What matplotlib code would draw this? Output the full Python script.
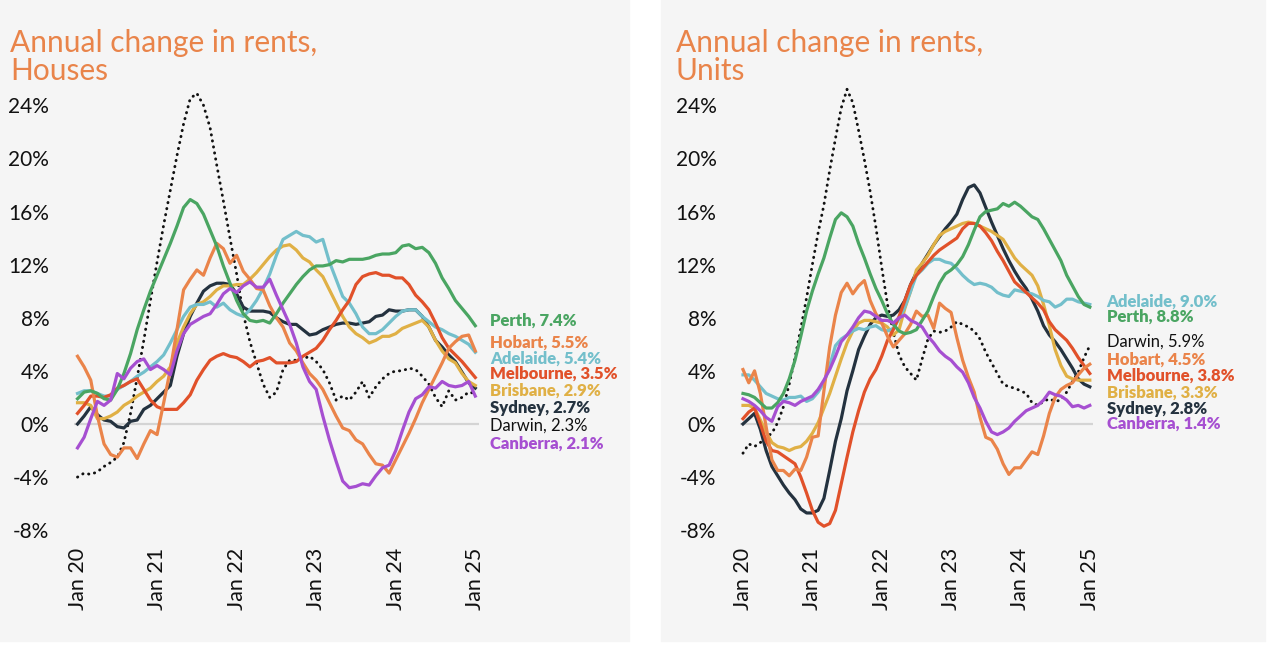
import matplotlib
matplotlib.use("Agg")
import matplotlib.pyplot as plt
from matplotlib.patches import Rectangle

# monthly annual change (%), Jan 2020 .. Jan 2025
TICK_LABELS = ["Jan 20", "Jan 21", "Jan 22", "Jan 23", "Jan 24", "Jan 25"]
Y_TICKS = [-8, -4, 0, 4, 8, 12, 16, 20, 24]

houses_perth = [1.9, 2.4, 2.5, 2.3, 1.9, 1.8, 2.6, 3.8, 5.3, 7.1, 8.6, 10.0, 11.2, 12.4, 13.6, 14.9,
                16.3, 16.9, 16.6, 15.8, 14.6, 13.4, 11.9, 10.6, 9.3, 8.3, 7.8, 7.7, 7.8, 7.6, 8.3, 9.1,
                9.8, 10.5, 11.1, 11.6, 11.9, 11.9, 12.0, 12.3, 12.2, 12.4, 12.4, 12.4, 12.5, 12.7, 12.8,
                12.8, 12.9, 13.4, 13.5, 13.2, 13.3, 12.9, 12.1, 11.0, 10.2, 9.3, 8.7, 8.1, 7.4]
houses_hobart = [5.1, 4.3, 3.3, 0.6, -1.5, -2.3, -2.5, -1.8, -1.8, -2.6, -1.5, -0.5, -0.8, 1.6, 4.1, 7.1,
                 10.1, 10.9, 11.6, 11.2, 12.5, 13.6, 13.2, 12.1, 12.7, 11.5, 10.9, 10.2, 10.1, 8.9, 8.0,
                 7.3, 6.1, 5.5, 4.6, 3.8, 3.3, 2.6, 1.6, 0.6, -0.3, -0.5, -1.2, -1.5, -2.3, -3.0, -3.1,
                 -3.7, -2.7, -1.7, -0.7, 0.4, 1.6, 2.6, 3.6, 4.6, 5.7, 6.2, 6.6, 6.7, 5.5]
houses_adelaide = [2.3, 2.5, 2.5, 2.3, 2.1, 2.1, 2.6, 2.9, 3.2, 3.6, 3.9, 4.3, 4.7, 5.2, 6.1, 7.1, 8.1,
                   8.8, 9.0, 9.0, 9.2, 8.8, 9.1, 8.6, 8.3, 8.1, 8.6, 9.3, 10.2, 11.3, 12.7, 13.9, 14.2,
                   14.5, 14.2, 14.1, 13.7, 13.9, 12.2, 10.9, 9.6, 9.1, 8.3, 7.3, 6.8, 6.8, 7.1, 7.6, 8.1,
                   8.5, 8.6, 8.6, 8.1, 7.7, 7.3, 7.1, 6.8, 6.6, 6.3, 6.0, 5.4]
houses_melbourne = [0.8, 1.4, 2.1, 2.1, 2.0, 2.2, 2.7, 2.9, 3.2, 3.4, 2.6, 1.8, 1.3, 1.1, 1.1, 1.1, 1.6,
                    2.2, 3.3, 4.1, 4.8, 5.1, 5.3, 5.1, 5.0, 4.7, 4.3, 4.7, 4.8, 5.0, 4.6, 4.6, 4.6, 4.7,
                    5.1, 5.4, 5.7, 6.3, 7.1, 7.8, 8.6, 9.3, 10.5, 11.1, 11.3, 11.4, 11.2, 11.2, 11.0,
                    11.0, 10.5, 9.7, 9.2, 8.6, 7.6, 6.5, 5.7, 5.2, 4.7, 4.1, 3.5]
houses_brisbane = [1.6, 1.6, 1.4, 0.4, 0.4, 0.6, 0.9, 1.4, 1.7, 2.1, 2.4, 2.7, 3.2, 3.6, 4.3, 6.1, 7.3,
                   8.3, 9.0, 9.2, 9.6, 10.1, 10.4, 10.4, 10.5, 10.5, 10.9, 11.4, 12.0, 12.6, 13.1, 13.4,
                   13.5, 13.1, 12.5, 12.2, 11.6, 11.1, 10.1, 9.1, 8.1, 7.3, 6.8, 6.5, 6.1, 6.3, 6.6, 6.6,
                   6.8, 7.2, 7.4, 7.6, 7.8, 7.3, 6.3, 5.5, 4.9, 4.6, 3.8, 3.2, 2.9]
houses_sydney = [0.0, 0.6, 1.3, 0.7, 0.3, 0.2, -0.2, -0.3, 0.2, 0.3, 1.1, 1.4, 1.9, 2.4, 2.9, 5.1, 6.8,
                 8.1, 9.1, 10.0, 10.4, 10.6, 10.6, 10.5, 9.8, 8.8, 8.5, 8.5, 8.5, 8.4, 8.0, 7.7, 7.5,
                 7.5, 7.1, 6.7, 6.8, 7.1, 7.3, 7.5, 7.6, 7.6, 7.5, 7.6, 7.7, 8.1, 8.2, 8.6, 8.5, 8.5,
                 8.6, 8.6, 8.1, 7.3, 6.3, 5.8, 5.2, 4.7, 3.9, 3.1, 2.7]
houses_darwin = [-4.0, -3.7, -3.8, -3.6, -3.2, -2.9, -2.5, -1.4, 0.8, 3.5, 6.3, 9.3, 12.2, 15.0, 17.6,
                 20.2, 22.6, 24.5, 24.9, 24.0, 22.3, 19.5, 16.8, 14.0, 11.3, 8.3, 6.2, 4.6, 3.0, 2.0,
                 2.4, 4.1, 4.8, 4.8, 4.9, 5.1, 4.7, 4.1, 3.1, 1.8, 2.1, 1.8, 2.4, 3.2, 2.0, 2.8, 3.4,
                 3.8, 4.0, 4.0, 4.2, 4.1, 3.6, 3.0, 2.0, 1.3, 2.5, 1.8, 2.0, 2.4, 2.3]
houses_canberra = [-1.8, -1.0, 0.4, 1.7, 1.4, 1.8, 3.8, 3.4, 4.2, 4.7, 4.9, 4.1, 4.4, 4.1, 3.7, 5.5,
                   6.8, 7.5, 7.8, 8.1, 8.3, 9.0, 9.8, 10.2, 9.9, 10.4, 10.7, 10.3, 10.3, 10.9, 9.7, 8.6,
                   7.5, 6.1, 4.3, 3.2, 2.6, 0.6, -1.2, -2.8, -4.3, -4.8, -4.7, -4.5, -4.6, -3.9, -3.3,
                   -3.1, -2.0, -0.5, 0.9, 1.9, 2.2, 2.8, 2.7, 3.2, 2.9, 2.8, 2.9, 3.2, 2.1]

units_perth = [2.3, 2.2, 2.0, 1.6, 1.2, 1.2, 1.6, 2.3, 3.4, 4.8, 6.6, 8.5, 10.0, 11.3, 12.5, 14.0, 15.4,
               15.9, 15.6, 14.9, 13.6, 12.5, 11.3, 10.2, 9.3, 8.3, 7.5, 7.0, 6.8, 6.9, 7.1, 7.8, 8.5,
               9.6, 10.6, 11.3, 11.6, 12.0, 12.6, 13.5, 14.6, 15.6, 16.0, 16.1, 16.2, 16.6, 16.4, 16.7,
               16.4, 16.0, 15.6, 15.4, 14.7, 13.9, 13.1, 12.3, 11.2, 10.4, 9.6, 9.0, 8.8]
units_adelaide = [3.7, 3.7, 3.3, 2.8, 2.3, 2.1, 1.9, 1.8, 2.0, 2.0, 2.1, 1.7, 1.9, 2.4, 3.1, 4.4, 5.9,
                  6.4, 6.7, 7.0, 7.2, 7.1, 7.3, 7.4, 7.1, 7.0, 7.2, 7.9, 8.8, 10.0, 11.2, 11.6, 12.1,
                  12.4, 12.4, 12.2, 12.1, 11.7, 11.2, 10.8, 10.5, 10.6, 10.5, 10.3, 9.9, 9.7, 9.6, 10.1,
                  10.0, 9.9, 9.8, 9.6, 9.3, 9.2, 8.8, 9.0, 9.4, 9.4, 9.2, 9.1, 9.0]
units_hobart = [4.1, 3.1, 4.0, 2.3, -0.2, -2.7, -3.5, -3.5, -3.9, -3.4, -3.5, -2.5, -1.0, -0.9, 2.5, 5.8,
                8.2, 9.9, 10.6, 9.8, 10.4, 10.8, 9.3, 8.3, 7.6, 6.6, 5.8, 6.3, 6.8, 7.5, 8.5, 8.1, 8.2,
                7.2, 9.1, 8.7, 8.4, 6.5, 4.8, 3.5, 2.4, 0.5, -1.0, -1.2, -1.9, -3.0, -3.8, -3.3, -3.3,
                -2.7, -2.1, -2.3, -0.9, 0.8, 2.0, 2.6, 2.9, 3.1, 3.7, 4.2, 4.5]
units_melbourne = [0.4, 0.9, 1.2, 0.0, -1.3, -2.0, -2.1, -2.4, -2.7, -3.0, -4.0, -5.2, -6.5, -7.4, -7.7,
                   -7.5, -6.5, -4.5, -2.5, -0.6, 1.0, 2.4, 3.4, 4.1, 5.1, 6.3, 7.1, 8.1, 9.3, 10.5, 11.2,
                   11.7, 12.2, 12.7, 13.1, 13.4, 13.7, 14.0, 14.7, 15.1, 15.1, 14.9, 14.4, 13.8, 13.0,
                   12.3, 11.5, 10.7, 10.3, 9.9, 9.5, 9.1, 8.6, 7.7, 7.1, 6.7, 6.3, 5.7, 5.0, 4.4, 3.8]
units_brisbane = [1.4, 1.4, 1.2, 0.3, -0.6, -1.4, -1.7, -1.8, -2.0, -1.8, -1.7, -1.3, -0.7, 0.1, 1.2,
                  2.3, 3.6, 4.9, 6.1, 7.0, 7.6, 7.8, 7.8, 7.7, 7.6, 7.3, 6.7, 7.1, 8.7, 10.0, 11.6, 12.1,
                  12.7, 13.5, 14.2, 14.5, 14.7, 14.9, 15.1, 15.2, 15.1, 14.9, 14.7, 14.5, 14.2, 13.9,
                  13.2, 12.5, 12.0, 11.6, 11.2, 10.4, 9.0, 7.4, 5.6, 4.4, 3.6, 3.4, 3.3, 3.3, 3.3]
units_sydney = [0.0, 0.4, 0.8, -0.4, -2.0, -3.2, -3.9, -4.6, -5.2, -5.7, -6.4, -6.7, -6.7, -6.5, -5.6,
                -3.5, -1.3, 0.4, 2.5, 4.0, 5.6, 6.6, 7.5, 8.0, 8.2, 8.1, 8.2, 8.6, 9.3, 10.5, 11.4, 12.1,
                12.8, 13.5, 14.1, 14.7, 15.2, 15.8, 16.9, 17.8, 18.0, 17.4, 16.3, 15.2, 14.2, 13.2, 12.3,
                11.5, 10.8, 10.2, 9.4, 8.5, 7.4, 6.7, 6.2, 5.6, 4.9, 4.2, 3.4, 3.0, 2.8]
units_darwin = [-2.2, -1.5, -1.7, -1.4, -1.0, -0.7, 0.1, 1.3, 3.0, 5.0, 7.2, 9.5, 12.0, 14.4, 16.5, 19.1,
                21.5, 23.8, 25.2, 24.2, 22.1, 19.9, 17.5, 14.8, 11.8, 9.0, 6.9, 5.2, 4.3, 3.8, 3.3, 4.9,
                6.4, 7.0, 6.9, 7.0, 7.3, 7.7, 7.5, 7.3, 7.0, 6.4, 5.4, 4.6, 3.8, 3.0, 2.8, 2.7, 2.5, 2.3,
                1.6, 1.4, 1.7, 1.9, 1.7, 1.8, 2.4, 3.2, 3.9, 5.0, 5.9]
units_canberra = [1.9, 1.7, 1.4, 1.0, 0.5, 0.2, 1.3, 1.7, 1.6, 1.4, 1.7, 1.9, 2.1, 2.6, 3.3, 4.1, 5.1,
                  6.2, 6.7, 7.3, 8.0, 8.5, 8.4, 8.1, 7.8, 7.8, 7.6, 8.0, 8.2, 7.8, 7.6, 7.3, 6.6, 6.1,
                  5.5, 5.1, 4.8, 4.3, 3.9, 3.1, 2.0, 1.2, 0.2, -0.6, -0.8, -0.6, -0.3, 0.2, 0.6, 1.0,
                  1.2, 1.4, 1.8, 2.4, 2.2, 2.1, 1.8, 1.3, 1.4, 1.2, 1.4]

COLORS = {
    "Perth": "#4aa562",
    "Hobart": "#ea844a",
    "Adelaide": "#73bfcb",
    "Melbourne": "#e1512a",
    "Brisbane": "#e0b045",
    "Sydney": "#24323f",
    "Darwin": "#111111",
    "Canberra": "#a64fd1",
}
TITLE_COLOR = "#e9844a"
PANEL_BG = "#f5f5f5"
FONT = ["Lato", "DejaVu Sans"]

# draw order (back to front)
ORDER = ["Darwin", "Sydney", "Brisbane", "Adelaide", "Melbourne", "Hobart", "Perth", "Canberra"]

houses = {
    "Perth": houses_perth, "Hobart": houses_hobart, "Adelaide": houses_adelaide,
    "Melbourne": houses_melbourne, "Brisbane": houses_brisbane, "Sydney": houses_sydney,
    "Darwin": houses_darwin, "Canberra": houses_canberra,
}
units = {
    "Perth": units_perth, "Hobart": units_hobart, "Adelaide": units_adelaide,
    "Melbourne": units_melbourne, "Brisbane": units_brisbane, "Sydney": units_sydney,
    "Darwin": units_darwin, "Canberra": units_canberra,
}

# where the end labels sit (y in % units), nudged apart like the original
houses_label_y = {"Perth": 7.8, "Hobart": 6.1, "Adelaide": 4.9, "Melbourne": 3.75,
                  "Brisbane": 2.5, "Sydney": 1.2, "Darwin": -0.1, "Canberra": -1.45}
units_label_y = {"Adelaide": 9.2, "Perth": 8.1, "Darwin": 6.2, "Hobart": 4.85,
                 "Melbourne": 3.6, "Brisbane": 2.35, "Sydney": 1.15, "Canberra": 0.0}

plt.rcParams["font.family"] = FONT

W, H = 1268, 648
fig = plt.figure(figsize=(W / 100, H / 100), dpi=100)
fig.patch.set_facecolor("white")

# grey panels behind each chart
for x0, x1 in [(0, 629), (661, 1265)]:
    fig.add_artist(Rectangle((x0 / W, 1 - 641 / H), (x1 - x0) / W, 641 / H,
                             transform=fig.transFigure, color=PANEL_BG, zorder=-10))


def draw_panel(rect, data, label_y, title, title_x, label_x, ypad):
    ax = fig.add_axes(rect)
    ax.set_facecolor(PANEL_BG)
    months = list(range(len(data["Perth"])))

    ax.axhline(0, color="#d4d4d4", lw=1.6, zorder=1)
    for city in ORDER:
        vals = data[city]
        if city == "Darwin":
            ax.plot(months, vals, color=COLORS[city], lw=2.1, linestyle=(0, (0.1, 2.0)),
                    dash_capstyle="round", zorder=2)
        else:
            ax.plot(months, vals, color=COLORS[city], lw=2.3, zorder=3,
                    solid_joinstyle="round")

        text = f"{city}, {vals[-1]:.1f}%"
        ax.text(label_x, label_y[city], text, color=COLORS[city], fontsize=12,
                fontweight="normal" if city == "Darwin" else "heavy",
                va="center", ha="left", clip_on=False)

    ax.set_xlim(-0.5, 60.5)
    ax.set_ylim(-9, 26)
    ax.set_xticks(range(0, 61, 12))
    ax.set_xticklabels(TICK_LABELS, rotation=90, fontsize=15.5, color="#111111")
    ax.set_yticks(Y_TICKS)
    ax.set_yticklabels([f"{v}%" for v in Y_TICKS], fontsize=15, color="#111111")
    ax.tick_params(axis="both", length=0)
    ax.tick_params(axis="y", pad=ypad)
    ax.tick_params(axis="x", pad=3)
    for s in ax.spines.values():
        s.set_visible(False)

    fig.text(title_x / W, 1 - 29 / H, title, color=TITLE_COLOR, fontsize=21.5,
             va="top", ha="left", linespacing=0.98)
    return ax


ax_bottom = 1 - 543.5 / H
ax_height = (543.5 - 78.7) / H
draw_panel([74.2 / W, ax_bottom, (478.6 - 74.2) / W, ax_height], houses, houses_label_y,
           "Annual change in rents,\nHouses", 10, 62.2, 18)
draw_panel([740.1 / W, ax_bottom, (1092.7 - 740.1) / W, ax_height], units, units_label_y,
           "Annual change in rents,\nUnits", 676, 62.9, 17)

fig.savefig("out.png", dpi=100, facecolor="white")
